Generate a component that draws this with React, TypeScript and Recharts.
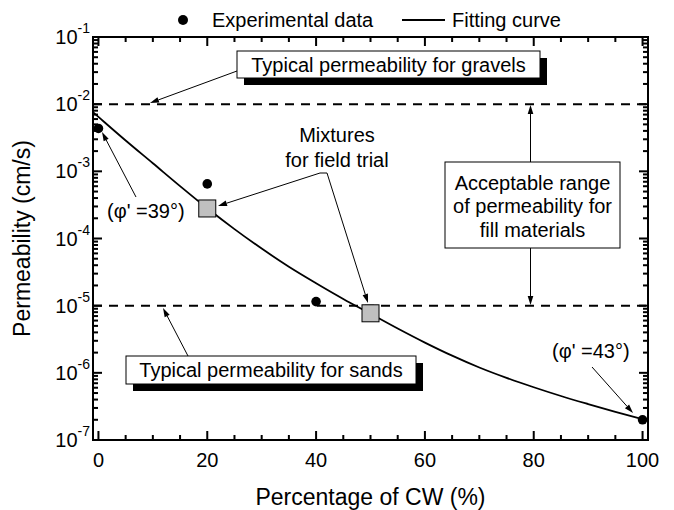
import React from 'react'
import { ComposedChart, Line, Scatter, XAxis, YAxis, ReferenceLine, ReferenceArea } from 'recharts'

// fitting curve
const fitX = [-1, 0, 5, 10, 15, 20, 25, 30, 35, 40, 45, 50, 55, 60, 65, 70, 75, 80, 85, 90, 95, 100]
const fitK = [7.6e-3, 6.46e-3, 2.88e-3, 1.32e-3, 6.03e-4, 2.82e-4, 1.38e-4, 7.08e-5, 3.8e-5, 2.16e-5, 1.26e-5, 7.59e-6, 4.57e-6, 2.82e-6, 1.8e-6, 1.2e-6, 8.41e-7, 6.1e-7, 4.52e-7, 3.43e-7, 2.63e-7, 2.04e-7]

// experimental points
const expX = [0, 20, 40, 100]
const expK = [4.35e-3, 6.5e-4, 1.15e-5, 2.0e-7]

// mixtures for field trial
const mixX = [20, 50]
const mixK = [2.8e-4, 7.7e-6]

// reference levels
const gravelK = 1e-2
const sandK = 1e-5

const xTicks = [0, 20, 40, 60, 80, 100]
const yTicks = [1e-7, 1e-6, 1e-5, 1e-4, 1e-3, 1e-2, 1e-1]
const xDomain = [-1, 101]
const yDomain = [1e-7, 1e-1]

const W = 674
const H = 510
const PLOT = { left: 93, right: 648, top: 37, bottom: 440 }
const Y_W = 60
const X_H = 30
const FONT = 'Arial, "Liberation Sans", Helvetica, sans-serif'

const fitData = fitX.map((x, i) => ({ x, y: fitK[i] }))
const expData = expX.map((x, i) => ({ x, y: expK[i] }))
const mixData = mixX.map((x, i) => ({ x, y: mixK[i] }))

// pixel helpers for the frame ticks only
const pxPerUnit = (PLOT.right - PLOT.left) / (xDomain[1] - xDomain[0])
const pxPerDecade = (PLOT.bottom - PLOT.top) / 6
const tx = (v: number) => PLOT.left + (v - xDomain[0]) * pxPerUnit
const ty = (v: number) => PLOT.top + (Math.log10(yDomain[1]) - Math.log10(v)) * pxPerDecade

const MAJ = 9
const MIN = 5
const TW = 2
const frameTicks: { x: number, y: number, w: number, h: number }[] = []
for (let v = 0; v <= 100; v += 5) {
  const len = v % 20 === 0 ? MAJ : MIN
  const x = tx(v) - TW / 2
  frameTicks.push({ x, y: PLOT.bottom - len, w: TW, h: len })
  frameTicks.push({ x, y: PLOT.top, w: TW, h: len })
}
for (let e = -7; e <= -1; e++) {
  for (let m = 1; m <= 9; m++) {
    if (e === -1 && m > 1) continue
    const len = m === 1 ? MAJ : MIN
    const y = ty(m * Math.pow(10, e)) - TW / 2
    frameTicks.push({ x: PLOT.left, y, w: len, h: TW })
    frameTicks.push({ x: PLOT.right - len, y, w: len, h: TW })
  }
}

const XTick = ({ x, y, payload }: any) => (
  <text x={x} y={y + 27} textAnchor="middle" fontSize={20} fontFamily={FONT} fill="#000">{payload.value}</text>
)

const YTick = ({ x, y, payload }: any) => {
  const exp = Math.round(Math.log10(payload.value))
  return (
    <text x={x - 3} y={y + 7} textAnchor="end" fontSize={20} fontFamily={FONT} fill="#000">
      10<tspan fontSize={14} dy={-11}>{exp}</tspan>
    </text>
  )
}

const Arrow = ({ x1, y1, x2, y2 }: any) => {
  const a = Math.atan2(y2 - y1, x2 - x1)
  const L = 9, hw = 2.8
  const bx = x2 - L * Math.cos(a), by = y2 - L * Math.sin(a)
  const px = -Math.sin(a) * hw, py = Math.cos(a) * hw
  return (
    <g>
      <line x1={x1} y1={y1} x2={bx} y2={by} stroke="#000" strokeWidth={1} />
      <polygon points={`${x2},${y2} ${bx + px},${by + py} ${bx - px},${by - py}`} fill="#000" />
    </g>
  )
}

const ShadowBox = ({ x, y, w, h, text }: any) => (
  <g>
    <rect x={x + 7} y={y + 7} width={w} height={h} fill="#000" />
    <rect x={x} y={y} width={w} height={h} fill="#fff" stroke="#000" strokeWidth={1} />
    <text x={x + w / 2} y={y + h / 2 + 7} textAnchor="middle" fontSize={20}>{text}</text>
  </g>
)

const Square = ({ cx, cy }: any) => (
  <rect x={cx - 8.5} y={cy - 8.5} width={17} height={17} fill="#c0c0c0" stroke="#000" strokeWidth={1} />
)

const Dot = ({ cx, cy }: any) => <circle cx={cx} cy={cy} r={4.8} fill="#000" />

export default function App() {
  return (
    <div style={{ position: 'absolute', left: 0, top: 0, width: W, height: H, background: '#fff' }}>
      <ComposedChart width={W} height={H} margin={{ top: PLOT.top, right: W - PLOT.right, bottom: H - PLOT.bottom - X_H, left: PLOT.left - Y_W }}>
        <XAxis dataKey="x" type="number" domain={xDomain} ticks={xTicks} allowDataOverflow height={X_H}
          tickLine={false} axisLine={false} tickSize={0} tickMargin={0} tick={<XTick />} />
        <YAxis dataKey="y" type="number" scale="log" domain={yDomain} ticks={yTicks} allowDataOverflow width={Y_W}
          tickLine={false} axisLine={false} tickSize={0} tickMargin={0} tick={<YTick />} />

        <ReferenceLine y={gravelK} stroke="#000" strokeWidth={2} strokeDasharray="9 7" />
        <ReferenceLine y={sandK} stroke="#000" strokeWidth={2} strokeDasharray="9 7" />
        <ReferenceArea x1={xDomain[0]} x2={xDomain[1]} y1={yDomain[0]} y2={yDomain[1]} fill="none" fillOpacity={0} stroke="#000" strokeWidth={2} ifOverflow="visible" />

        <Line data={fitData} dataKey="y" type="monotone" stroke="#000" strokeWidth={1.8} dot={false} isAnimationActive={false} />
        <Scatter data={expData} dataKey="y" shape={<Dot />} isAnimationActive={false} />
        <Scatter data={mixData} dataKey="y" shape={<Square />} isAnimationActive={false} />

        <g fontFamily={FONT} fill="#000">
          {/* inward frame ticks */}
          {frameTicks.map((t, i) => (
            <rect key={i} x={t.x} y={t.y} width={t.w} height={t.h} fill="#000" />
          ))}

          {/* legend */}
          <circle cx={183} cy={20} r={5} fill="#000" />
          <text x={212} y={27} fontSize={20}>Experimental data</text>
          <line x1={402} y1={20} x2={445} y2={20} stroke="#000" strokeWidth={1.8} />
          <text x={452} y={27} fontSize={20}>Fitting curve</text>

          {/* axis titles */}
          <text x={(PLOT.left + PLOT.right) / 2} y={505} textAnchor="middle" fontSize={23}>Percentage of CW (%)</text>
          <text transform={`translate(30, ${(PLOT.top + PLOT.bottom) / 2}) rotate(-90)`} textAnchor="middle" fontSize={23}>Permeability (cm/s)</text>

          {/* gravels */}
          <ShadowBox x={237} y={51} w={303} h={27} text="Typical permeability for gravels" />
          <Arrow x1={237} y1={71} x2={150} y2={103} />

          {/* sands */}
          <ShadowBox x={126} y={356} w={290} h={28} text="Typical permeability for sands" />
          <Arrow x1={188} y1={356} x2={163} y2={308} />

          {/* mixtures */}
          <text x={337} y={142} textAnchor="middle" fontSize={20}>Mixtures</text>
          <text x={337} y={167} textAnchor="middle" fontSize={20}>for field trial</text>
          <line x1={320} y1={173} x2={327} y2={173} stroke="#000" strokeWidth={1} />
          <Arrow x1={320} y1={173} x2={218} y2={206} />
          <Arrow x1={327} y1={173} x2={368} y2={303} />

          {/* friction angles */}
          <text x={107} y={218} fontSize={20}>(φ' =39°)</text>
          <Arrow x1={136} y1={197} x2={102} y2={132} />
          <text x={552} y={358} fontSize={20}>(φ' =43°)</text>
          <Arrow x1={592} y1={367} x2={633} y2={413} />

          {/* acceptable range */}
          <rect x={445} y={162} width={175} height={86} fill="#fff" stroke="#000" strokeWidth={1} />
          <text x={532.5} y={189.5} textAnchor="middle" fontSize={20}>Acceptable range</text>
          <text x={532.5} y={213} textAnchor="middle" fontSize={20}>of permeability for</text>
          <text x={532.5} y={236.5} textAnchor="middle" fontSize={20}>fill materials</text>
          <Arrow x1={530.5} y1={162} x2={530.5} y2={105} />
          <Arrow x1={530.5} y1={248} x2={530.5} y2={305} />
        </g>
      </ComposedChart>
    </div>
  )
}
